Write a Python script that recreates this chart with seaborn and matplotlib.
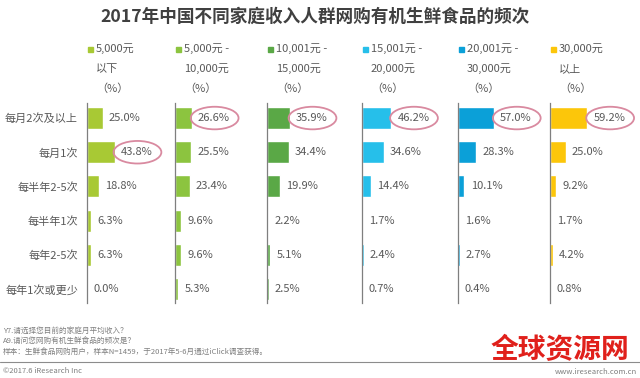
import matplotlib
matplotlib.use('Agg')
import matplotlib.pyplot as plt
import seaborn as sns
import pandas as pd
from matplotlib.patches import Ellipse, Rectangle
from matplotlib.lines import Line2D

# Frequency of buying organic fresh food online, by household income
freqs = ['每月2次及以上', '每月1次', '每半年2-5次', '每半年1次', '每年2-5次', '每年1次或更少']
groups = ['5,000元\n以下', '5,000元 -\n10,000元', '10,001元 -\n15,000元',
          '15,001元 -\n20,000元', '20,001元 -\n30,000元', '30,000元\n以上']
under_5k = [25.0, 43.8, 18.8, 6.3, 6.3, 0.0]
k5_10 = [26.6, 25.5, 23.4, 9.6, 9.6, 5.3]
k10_15 = [35.9, 34.4, 19.9, 2.2, 5.1, 2.5]
k15_20 = [46.2, 34.6, 14.4, 1.7, 2.4, 0.7]
k20_30 = [57.0, 28.3, 10.1, 1.6, 2.7, 0.4]
over_30k = [59.2, 25.0, 9.2, 1.7, 4.2, 0.8]
colors = ['#a8c934', '#8cc43f', '#5aa846', '#26bfea', '#0ba0d8', '#fcc60a']

series = [under_5k, k5_10, k10_15, k15_20, k20_30, over_30k]
df = pd.concat([
    pd.DataFrame({'group': g, 'freq': freqs, 'pct': vals})
    for g, vals in zip(groups, series)
])

sns.set_theme(style='white')
plt.rcParams['font.family'] = ['Noto Sans CJK SC', 'DejaVu Sans']

W, H = 640, 378
fig = plt.figure(figsize=(6.4, 3.78), dpi=100)

txt = '#595959'
lefts = [87, 175, 267, 362, 458, 550]
ax_top, ax_bot = 103, 303

for k, (g, c) in enumerate(zip(groups, colors)):
    ax = fig.add_axes([lefts[k] / W, (H - ax_bot) / H, 88 / W, (ax_bot - ax_top) / H])
    sub = df[df['group'] == g]
    sns.barplot(data=sub, x='pct', y='freq', order=freqs, color=c,
                saturation=1, width=0.64, ax=ax)
    ax.set_xlim(0, 140)
    ax.set_ylim(5.41, -0.44)
    ax.set_xlabel('')
    ax.set_ylabel('')
    ax.set_xticks([])
    for s in ['top', 'right', 'bottom']:
        ax.spines[s].set_visible(False)
    ax.spines['left'].set_color('#7f7f7f')
    ax.spines['left'].set_linewidth(0.9)
    ax.tick_params(axis='y', length=0, pad=6.5)
    if k == 0:
        ax.set_yticks(range(len(freqs)))
        ax.set_yticklabels(freqs, fontsize=8, color=txt)
    else:
        ax.set_yticklabels([])
    ax.patch.set_alpha(0)

    vals = sub['pct'].tolist()
    top = vals.index(max(vals))
    for i, v in enumerate(vals):
        ax.text(v + 10, i, f'{v:.1f}%', va='center', ha='left', fontsize=8, color=txt)
    ax.add_patch(Ellipse((vals[top] + 36.5, top), width=76, height=0.66, fill=False,
                         ec='#d98aa0', lw=1.3, clip_on=False))

    # legend header above each panel
    fig.add_artist(Rectangle(((lefts[k] + 1) / W, 1 - 52 / H), 5 / W, 5 / H,
                             color=c, transform=fig.transFigure))
    lines = g.split('\n') + ['（%）']
    for j, ln in enumerate(lines):
        fig.text((lefts[k] + 9) / W, 1 - (49 + 20 * j) / H, ln, fontsize=8, color=txt,
                 va='center', ha='left')

fig.text(315 / W, 1 - 17 / H, '2017年中国不同家庭收入人群网购有机生鲜食品的频次',
         fontsize=12.7, fontweight='bold', color='#404040', ha='center', va='center')

notes = ['Y7.请选择您目前的家庭月平均收入？',
         'A9.请问您网购有机生鲜食品的频次是？',
         '样本：生鲜食品网购用户，样本N=1459，于2017年5-6月通过iClick调查获得。']
for j, n in enumerate(notes):
    fig.text(3 / W, 1 - (331 + j * 10.5) / H, n, fontsize=5.5, color='#7f7f7f', va='center')

fig.add_artist(Line2D([0, 1], [1 - 362 / H] * 2, color='#8c8c8c', lw=0.8))
fig.text(3 / W, 1 - 371 / H, '©2017.6 iResearch Inc', fontsize=5.5, color='#7f7f7f', va='center')
fig.text(637 / W, 1 - 372 / H, 'www.iresearch.com.cn', fontsize=5.5, color='#7f7f7f',
         va='center', ha='right')
fig.text(560 / W, 1 - 350 / H, '全球资源网', fontsize=20, fontweight='bold', color='#e0201b',
         ha='center', va='center')

fig.savefig('out.png', dpi=100)
